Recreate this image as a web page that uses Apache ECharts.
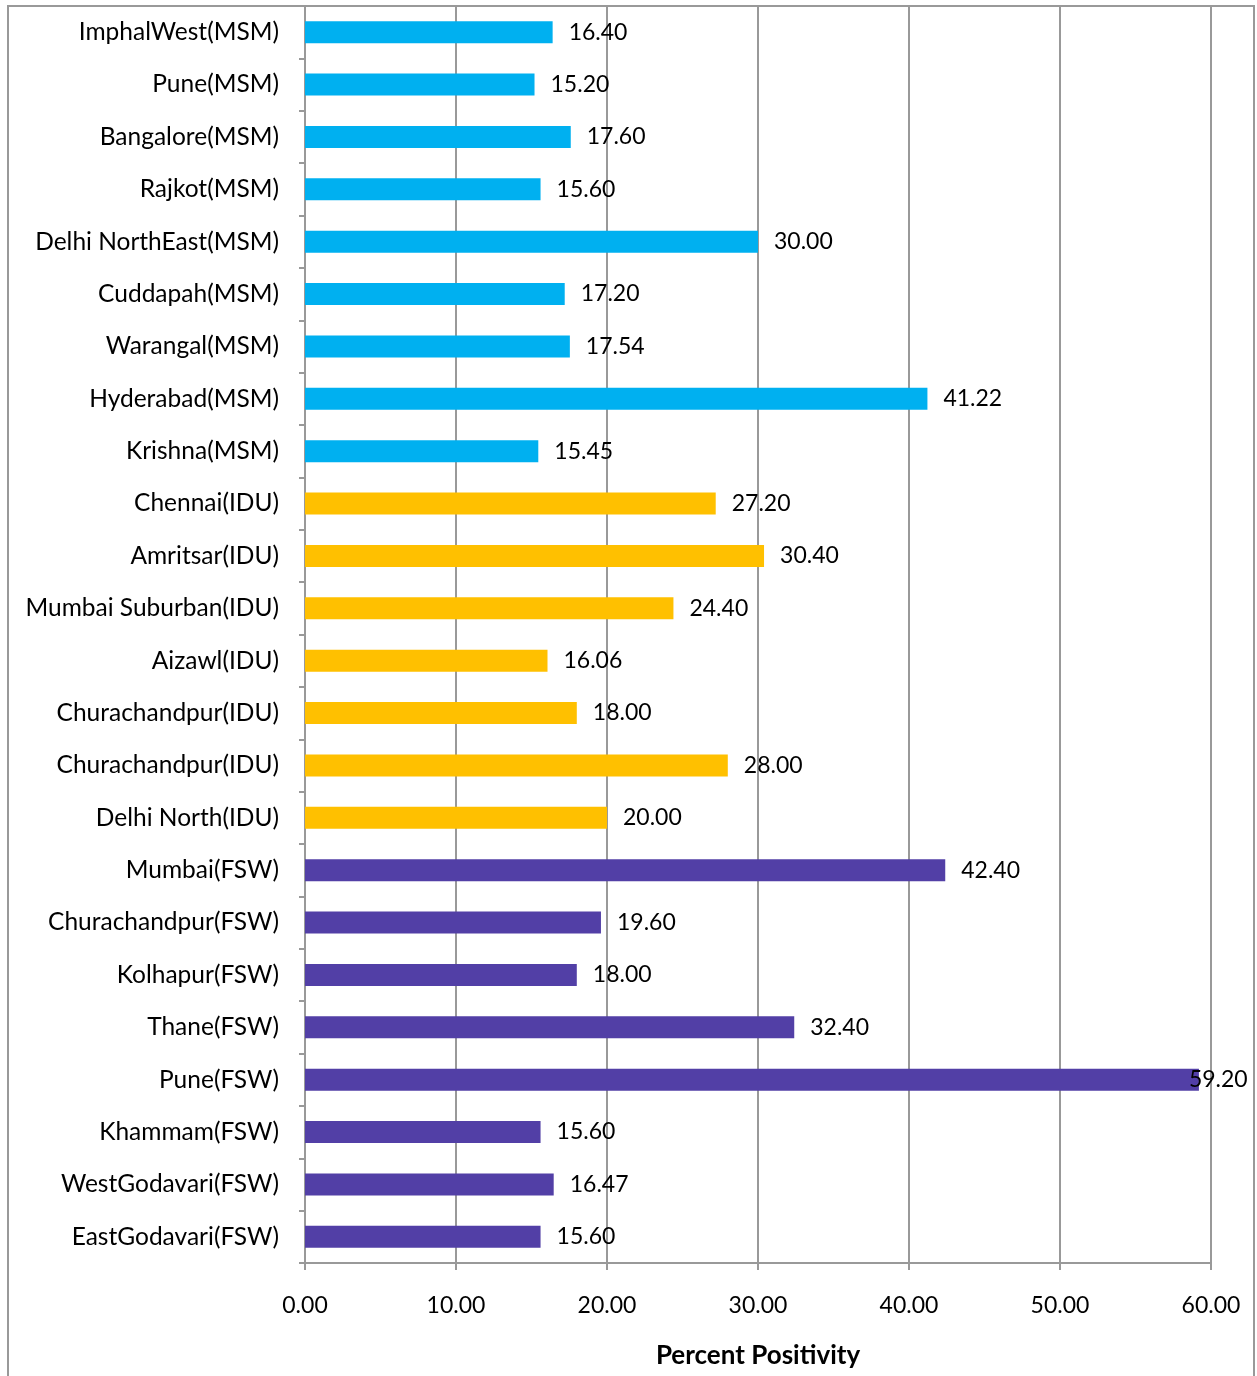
<!DOCTYPE html>
<html><head><meta charset="utf-8">
<script src="https://cdn.jsdelivr.net/npm/echarts@6/dist/echarts.min.js"></script>
<style>html,body{margin:0;padding:0;background:#fff}#c{width:1257px;height:1376px}</style>
</head><body><div id="c"></div>
<script>
const categories = ["ImphalWest(MSM)","Pune(MSM)","Bangalore(MSM)","Rajkot(MSM)","Delhi NorthEast(MSM)","Cuddapah(MSM)","Warangal(MSM)","Hyderabad(MSM)","Krishna(MSM)","Chennai(IDU)","Amritsar(IDU)","Mumbai Suburban(IDU)","Aizawl(IDU)","Churachandpur(IDU)","Churachandpur(IDU)","Delhi North(IDU)","Mumbai(FSW)","Churachandpur(FSW)","Kolhapur(FSW)","Thane(FSW)","Pune(FSW)","Khammam(FSW)","WestGodavari(FSW)","EastGodavari(FSW)"];
const values = [16.40,15.20,17.60,15.60,30.00,17.20,17.54,41.22,15.45,27.20,30.40,24.40,16.06,18.00,28.00,20.00,42.40,19.60,18.00,32.40,59.20,15.60,16.47,15.60];
const groups = ["MSM","MSM","MSM","MSM","MSM","MSM","MSM","MSM","MSM","IDU","IDU","IDU","IDU","IDU","IDU","IDU","FSW","FSW","FSW","FSW","FSW","FSW","FSW","FSW"];
const xTicks = {min:0, max:60, interval:10};
const groupColors = {MSM:"#00B0F0", IDU:"#FFC000", FSW:"#523FA6"};
const font = "Lato, 'Open Sans', sans-serif";
const chart = echarts.init(document.getElementById('c'));
chart.setOption({
  animation:false,
  grid:{left:305,right:46,top:6,bottom:113,containLabel:false,outerBoundsMode:'none'},
  xAxis:{type:'value',min:xTicks.min,max:xTicks.max,interval:xTicks.interval,
    name:'Percent Positivity',nameLocation:'middle',nameGap:80,
    nameTextStyle:{fontFamily:font,fontSize:26,fontWeight:'bold',color:'#000'},
    axisLine:{show:true,lineStyle:{color:'#999',width:2}},
    axisTick:{show:true,length:7,lineStyle:{color:'#999',width:2}},
    axisLabel:{formatter:v=>v.toFixed(2),fontFamily:font,fontSize:23,color:'#000',margin:31},
    splitLine:{show:true,lineStyle:{color:'#999',width:2}}},
  yAxis:{type:'category',data:categories,inverse:true,
    axisLine:{show:true,lineStyle:{color:'#999',width:2}},
    axisTick:{show:true,length:6,lineStyle:{color:'#999',width:2}},
    axisLabel:{fontFamily:font,fontSize:24.5,color:'#000',margin:26},
    splitLine:{show:false}},
  series:[{type:'bar',barWidth:22,
    data:values.map((v,i)=>{
      const item={value:v,itemStyle:{color:groupColors[groups[i]]}};
      if(v>xTicks.max-4){item.label={offset:[-26,0]};}
      return item;
    }),
    label:{show:true,position:'right',distance:16,formatter:p=>p.value.toFixed(2),fontFamily:font,fontSize:23,color:'#000'}}],
  graphic:[{type:'rect',shape:{x:8,y:6,width:1246,height:1400},style:{fill:'none',stroke:'#999',lineWidth:2},silent:true,z:-1}]
});
</script></body></html>
